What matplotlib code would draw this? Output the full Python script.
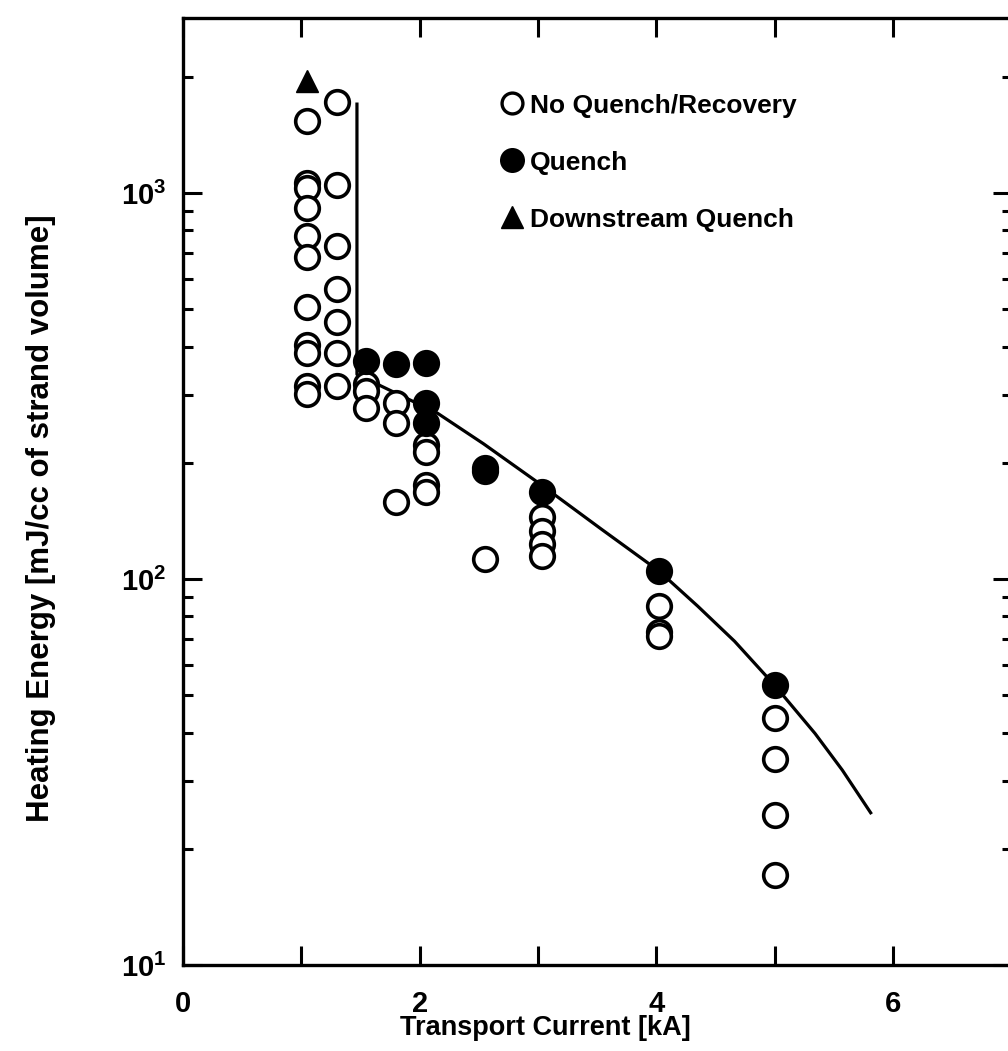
import matplotlib
matplotlib.use("Agg")
import matplotlib.pyplot as plt
from matplotlib.lines import Line2D
from matplotlib.ticker import FixedLocator, LogLocator, NullFormatter

plt.rcParams['font.family'] = ['Liberation Sans', 'DejaVu Sans']
plt.rcParams['font.weight'] = 'bold'
plt.rcParams['axes.labelweight'] = 'bold'
plt.rcParams['mathtext.fontset'] = 'custom'
plt.rcParams['mathtext.rm'] = 'Liberation Sans:bold'
plt.rcParams['mathtext.it'] = 'Liberation Sans:bold'

# no quench / recovery (open circles)
recov_x = [1.05] * 11 + [1.3] * 7 + [1.55] * 3 + [1.8] * 3 + [2.05] * 4 + [2.55] * 2 \
    + [3.03] * 4 + [4.02] * 3 + [5.0] * 4
recov_y = [1540, 1060, 1030, 915, 776, 681, 507, 405, 384, 316, 302,
           1720, 1050, 731, 564, 464, 384, 316,
           320, 307, 278,
           286, 254, 158,
           222, 213, 175, 168,
           190, 113,
           145, 133, 123, 115,
           85, 73, 71,
           43.6, 34.2, 24.5, 17.1]

# quench (filled circles)
quench_x = [1.55, 1.8, 2.05, 2.05, 2.05, 2.55, 3.03, 4.02, 5.0]
quench_y = [367, 360, 362, 286, 253, 194, 168, 105, 53]

# downstream quench (triangle)
down_x = [1.05]
down_y = [1950]

# boundary curve
curve_x = [1.47, 1.47, 2.15, 2.54, 3.02, 3.53, 4.02, 4.35, 4.66, 5.0, 5.34, 5.57, 5.81]
curve_y = [1700, 339, 269, 224, 176, 135, 105, 85, 69, 53, 39.8, 32, 24.8]

fig = plt.figure(figsize=(10.08, 10.51), dpi=100)
ax = fig.add_axes([0.1815, 0.0818, 0.822, 0.901])

ax.plot(curve_x, curve_y, color='black', lw=2.3, zorder=2)
ms = 17
mew = 2.6
for x, y in zip(recov_x, recov_y):
    ax.plot(x, y, 'o', ms=ms, mfc='white', mec='black', mew=mew, zorder=3)
ax.plot(quench_x, quench_y, 'o', ms=ms, mfc='black', mec='black', mew=mew, ls='none', zorder=4)
ax.plot(down_x, down_y, '^', ms=16, mfc='black', mec='black', mew=1, ls='none', zorder=4)

ax.set_yscale('log')
ax.set_xlim(0, 7)
ax.set_ylim(10, 2840)

ax.xaxis.set_major_locator(FixedLocator([0, 2, 4, 6]))
ax.xaxis.set_minor_locator(FixedLocator([1, 3, 5, 7]))
ax.xaxis.set_minor_formatter(NullFormatter())
ax.yaxis.set_major_locator(LogLocator(base=10, numticks=10))
ax.yaxis.set_minor_locator(LogLocator(base=10, subs=range(2, 10), numticks=20))
ax.yaxis.set_minor_formatter(NullFormatter())

ax.tick_params(axis='x', which='both', direction='in', top=True, length=14, width=2.2,
               labelsize=21, pad=18)
ax.tick_params(axis='y', which='major', direction='in', right=True, length=14, width=2.2,
               labelsize=21, pad=12)
ax.tick_params(axis='y', which='minor', direction='in', right=True, length=7, width=2.2)

for s in ax.spines.values():
    s.set_linewidth(2.4)

ax.set_xlabel('Transport Current [kA]', fontsize=19.5, fontweight='bold')
ax.xaxis.set_label_coords(0.438, -0.053)
ax.set_ylabel('Heating Energy [mJ/cc of strand volume]', fontsize=22.5, fontweight='bold')
ax.yaxis.set_label_coords(-0.153, 0.472)

handles = [
    Line2D([], [], marker='o', ls='none', ms=15, mfc='white', mec='black', mew=2.4),
    Line2D([], [], marker='o', ls='none', ms=16, mfc='black', mec='black', mew=2),
    Line2D([], [], marker='^', ls='none', ms=16, mfc='black', mec='black', mew=1),
]
ax.legend(handles, ['No Quench/Recovery', 'Quench', 'Downstream Quench'],
          loc='upper left', bbox_to_anchor=(0.497, 0.911), bbox_transform=fig.transFigure,
          frameon=False, fontsize=19, handlelength=0.8, handletextpad=0.3,
          labelspacing=1.25, borderpad=0, borderaxespad=0)

fig.savefig('out.png', dpi=100)
